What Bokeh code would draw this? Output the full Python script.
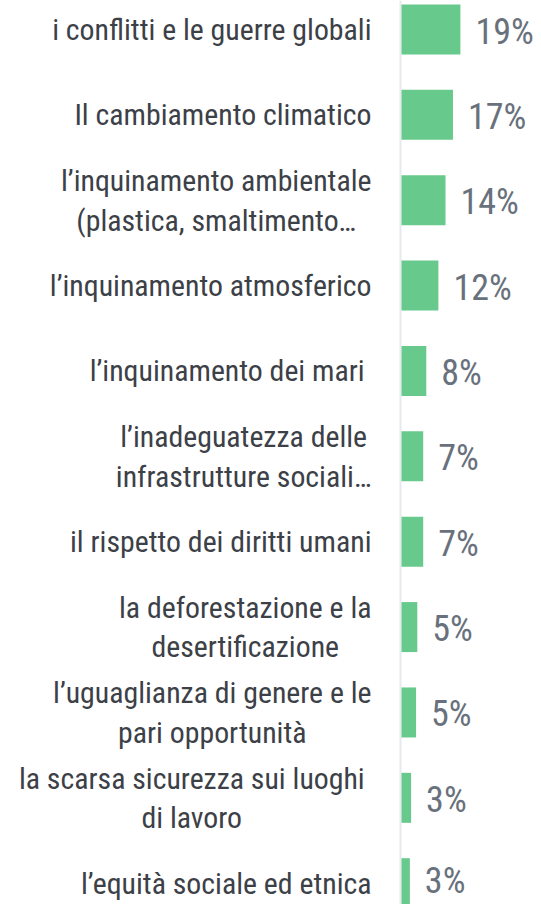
from bokeh.plotting import figure
from bokeh.models import ColumnDataSource, Range1d, Span
from bokeh.core.properties import value
from bokeh.embed import file_html
from bokeh.resources import INLINE

categories = [
    "i conflitti e le guerre globali",
    "Il cambiamento climatico",
    "l\u2019inquinamento ambientale\n(plastica, smaltimento\u2026",
    "l\u2019inquinamento atmosferico",
    "l\u2019inquinamento dei mari ",
    "l\u2019inadeguatezza delle\ninfrastrutture sociali\u2026",
    "il rispetto dei diritti umani",
    "la deforestazione e la\ndesertificazione",
    "l\u2019uguaglianza di genere e le\npari opportunit\u00e0",
    "la scarsa sicurezza sui luoghi \ndi lavoro ",
    "l\u2019equit\u00e0 sociale ed etnica",
]
shares = [19.0, 16.6, 14.2, 11.9, 8.0, 7.0, 7.0, 5.1, 4.7, 3.1, 2.7]
share_labels = ["%d%%" % round(v) for v in shares]

W, H = 541, 904
PX_PER_PCT = 3.1
X0_PX = 401           # screen x of the bar baseline
PITCH = 85.37         # px per category band
Y0_PX = 29            # screen y of the first bar centre
VAL_FONT_PX = 36

idx = list(range(len(categories)))
# keep value labels' text boxes inside the picture (only affects the last row)
half_box = 0.6 * VAL_FONT_PX
val_dy = [min(2.0, H - 2 - half_box - (Y0_PX + i * PITCH)) for i in idx]

src = ColumnDataSource(dict(y=idx, v=shares, cat=categories, lab=share_labels, dy=val_dy))

p = figure(
    width=W, height=H, output_backend="svg", toolbar_location=None,
    x_range=Range1d(-X0_PX / PX_PER_PCT, (W - X0_PX) / PX_PER_PCT),
    y_range=Range1d((H - Y0_PX) / PITCH, -Y0_PX / PITCH),
    min_border=0, outline_line_color=None,
)
p.axis.visible = False
p.grid.visible = False
p.background_fill_color = "white"
p.border_fill_color = "white"

p.add_layout(Span(location=-1.0 / PX_PER_PCT, dimension="height",
                  line_color="#e6e9ee", line_width=2, level="underlay"))

p.hbar(y="y", left=0, right="v", height=50 / PITCH, source=src,
       fill_color="#67c98b", line_color=None)

p.text(x=0, y="y", text="cat", source=src, x_offset=-30,
       anchor=value("center_right"), text_align="center",
       text_font=value("Roboto Condensed"), text_font_size="29.8px",
       text_color="#3c4047", text_line_height=1.13)

p.text(x="v", y="y", text="lab", source=src, x_offset=15, y_offset="dy",
       anchor=value("center_left"), text_align="left",
       text_font=value("Roboto Condensed"), text_font_size="%dpx" % VAL_FONT_PX,
       text_color="#68717c")

open("out.html", "w").write(file_html(p, INLINE))
